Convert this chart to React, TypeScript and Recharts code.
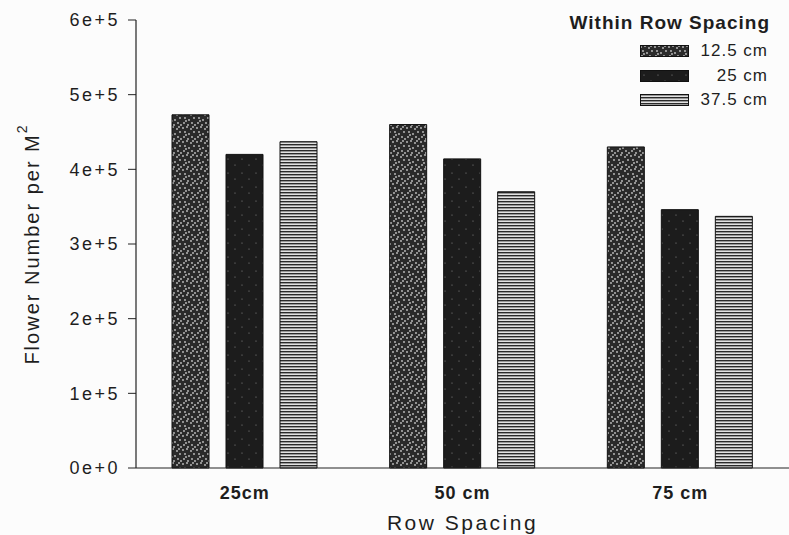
import React from "react";
import { BarChart, Bar, XAxis, YAxis } from "recharts";

const categories = ["25cm", "50 cm", "75 cm"];
const seriesNames = ["12.5 cm", "25 cm", "37.5 cm"];
const within125 = [473000, 460000, 430000];
const within25 = [420000, 414000, 346000];
const within375 = [437000, 370000, 337000];
const yTicks = [0, 100000, 200000, 300000, 400000, 500000, 600000];

const data = categories.map((name, i) => ({
  name,
  a: within125[i],
  b: within25[i],
  c: within375[i],
}));

const fills = ["url(#speckle)", "url(#dark)", "url(#stripes)"];
const keys = ["a", "b", "c"];
const font = "'Liberation Sans', Arial, sans-serif";

// white flecks for the scanned-print look
const flecks = [
  [1, 2], [5, 1], [9, 3], [12, 6], [3, 6], [7, 8], [10, 11], [2, 11], [6, 13], [13, 13], [4, 9], [11, 1],
];

const LegendBox = () => (
  <div style={{ position: "absolute", top: 12, left: 545, width: 225, fontFamily: font, color: "#1e1e1e" }}>
    <div style={{ fontSize: 19, fontWeight: "bold", letterSpacing: 1, textAlign: "right", height: 27, whiteSpace: "nowrap" }}>
      Within Row Spacing
    </div>
    {seriesNames.map((s, i) => (
      <div key={s} style={{ display: "flex", alignItems: "center", height: 24.5 }}>
        <svg width={50} height={12} style={{ marginLeft: 95 }}>
          <rect x={0.5} y={0.5} width={48} height={11} fill={fills[i]} stroke="#111" />
        </svg>
        <span style={{ fontSize: 17, letterSpacing: 1, marginLeft: "auto", marginRight: 2 }}>{s}</span>
      </div>
    ))}
  </div>
);

const YLabel = () => (
  <text
    x={32}
    y={244}
    transform="rotate(-90, 32, 244)"
    textAnchor="middle"
    dominantBaseline="central"
    fontSize={20}
    letterSpacing={2}
    fill="#1e1e1e"
    fontFamily={font}
  >
    Flower Number per M
    <tspan dy={-10} fontSize={14}>2</tspan>
  </text>
);

export default function App() {
  return (
    <div style={{ position: "absolute", left: 0, top: 0, width: 789, height: 535, background: "#fcfcfc" }}>
      <BarChart
        width={789}
        height={535}
        data={data}
        margin={{ top: 20, right: 0, left: 0, bottom: 5 }}
        barSize={37}
        barGap={17}
      >
        <defs>
          <pattern id="speckle" width={14} height={14} patternUnits="userSpaceOnUse">
            <rect width={14} height={14} fill="#2a2a2a" />
            {flecks.map(([x, y], i) => (
              <circle key={i} cx={x} cy={y} r={0.9} fill="#c4c4c4" />
            ))}
          </pattern>
          <pattern id="dark" width={14} height={14} patternUnits="userSpaceOnUse">
            <rect width={14} height={14} fill="#1c1c1c" />
            <circle cx={4} cy={5} r={0.6} fill="#8a8a8a" />
            <circle cx={11} cy={11} r={0.6} fill="#8a8a8a" />
          </pattern>
          <pattern id="stripes" width={6} height={3} patternUnits="userSpaceOnUse">
            <rect width={6} height={3} fill="#e2e2e2" />
            <rect y={0} width={6} height={1.4} fill="#2a2a2a" />
          </pattern>
        </defs>
        <XAxis
          dataKey="name"
          height={62}
          tickLine={false}
          tickMargin={12}
          axisLine={{ stroke: "#222", strokeWidth: 1.2 }}
          tick={{ fill: "#1e1e1e", fontSize: 18, fontWeight: "bold", fontFamily: font, letterSpacing: 1 }}
          label={{
            value: "Row Spacing",
            position: "insideBottom",
            offset: 0,
            fill: "#1e1e1e",
            fontSize: 21,
            fontFamily: font,
            letterSpacing: 2.5,
          }}
        />
        <YAxis
          width={136}
          domain={[0, 600000]}
          ticks={yTicks}
          tickFormatter={(v: number) => v.toExponential(0)}
          tickSize={8}
          tickMargin={8}
          axisLine={{ stroke: "#222", strokeWidth: 1.2 }}
          tickLine={{ stroke: "#222" }}
          tick={{ fill: "#1e1e1e", fontSize: 18, fontFamily: font, letterSpacing: 2.5 }}
          label={<YLabel />}
        />
        {keys.map((k, i) => (
          <Bar
            key={k}
            dataKey={k}
            name={seriesNames[i]}
            fill={fills[i]}
            stroke="#111"
            strokeWidth={1}
            isAnimationActive={false}
          />
        ))}
      </BarChart>
      <LegendBox />
    </div>
  );
}
